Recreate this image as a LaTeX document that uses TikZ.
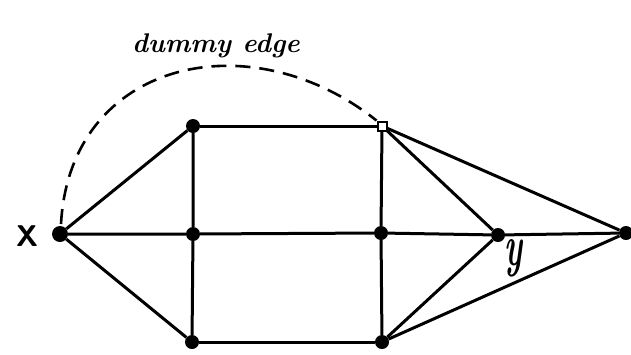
\documentclass[tikz,border=0pt]{standalone}
\begin{document}
\begin{tikzpicture}[x=1pt,y=-1pt,
  vtx/.style={circle,fill=black,inner sep=0pt,minimum size=14pt},
  sqv/.style={rectangle,draw=black,fill=white,line width=2pt,inner sep=0pt,minimum size=9pt},
  edge/.style={line width=3pt},
  dummy/.style={line width=2.6pt,dash pattern=on 15pt off 9pt},
  lbl/.style={font=\fontsize{27}{30}\selectfont\bfseries\itshape}]
\useasboundingbox (0,0) rectangle (631,354);
\node[vtx,minimum size=16pt] (X) at (60,234) {};
\node[vtx] (A) at (193,126) {};
\node[vtx] (C) at (193,234) {};
\node[vtx] (E) at (192,342) {};
\node[vtx] (D) at (381,233) {};
\node[vtx] (F) at (382,342) {};
\node[vtx] (Y) at (498,235) {};
\node[vtx] (R) at (626,233) {};
\node[sqv] (B) at (382,126) {};
% edges
\draw[edge] (X) -- (A);
\draw[edge] (X) -- (E);
\draw[edge] (X) -- (C) -- (D) -- (Y) -- (R);
\draw[edge] (A) -- (B);
\draw[edge] (E) -- (F);
\draw[edge] (A) -- (C) -- (E);
\draw[edge] (B) -- (D) -- (F);
\draw[edge] (B) -- (Y);
\draw[edge] (B) -- (R);
\draw[edge] (Y) -- (F);
\draw[edge] (R) -- (F);
\node[sqv] at (B) {};
% dummy edge
\draw[dummy] (61,224) .. controls (70,60) and (250,20) .. (B.north west);
\node[lbl,anchor=base] (dl) at (216,52) {dummy edge};
\node[font=\fontsize{30}{30}\selectfont\sffamily\bfseries] (xl) at (27,236) {X};
\node[font=\fontsize{32}{32}\selectfont\bfseries\itshape] (yl) at (513,258) {\scalebox{1}[1.8]{y}};
\end{tikzpicture}
\end{document}
